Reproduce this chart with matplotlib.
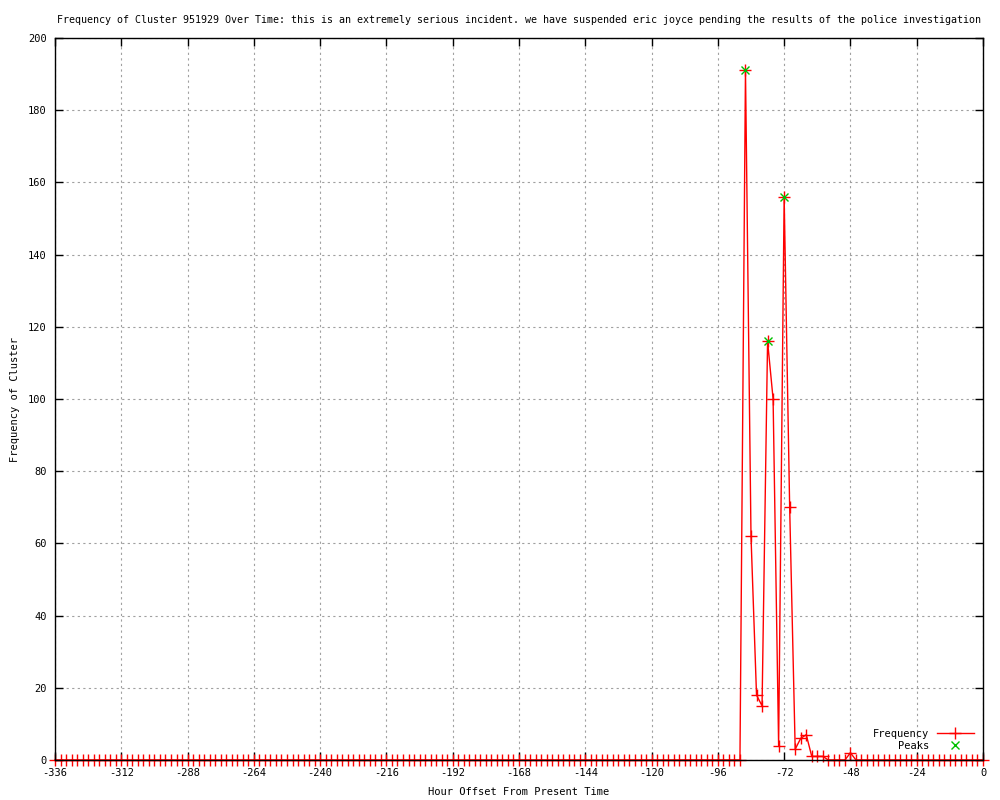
import numpy as np
import matplotlib
matplotlib.use("Agg")
import matplotlib.pyplot as plt

# hour offsets, one point every 2 hours
hours = list(range(-336, 1, 2))
nonzero = {-86: 191, -84: 62, -82: 18, -80: 15, -78: 116, -76: 100, -74: 4,
           -72: 156, -70: 70, -68: 3, -66: 6, -64: 7, -62: 1, -60: 1, -58: 1,
           -48: 2}
freq = [nonzero.get(h, 0) for h in hours]

peak_hours = [-86, -78, -72]
peak_vals = [191, 116, 156]

x_ticks = list(range(-336, 1, 24))
y_ticks = list(range(0, 201, 20))

title = ("Frequency of Cluster 951929 Over Time: this is an extremely serious incident. "
         "we have suspended eric joyce pending the results of the police investigation")

plt.rcParams['font.family'] = ['DejaVu Sans Mono']
plt.rcParams['font.size'] = 7.5
plt.rcParams['axes.unicode_minus'] = False

fig = plt.figure(figsize=(10, 8), dpi=100)
ax = fig.add_axes([0.055, 0.05, 0.928, 0.9025])

ax.plot(hours, freq, color='red', linewidth=1, marker='+', markersize=8,
        markeredgewidth=1, label='Frequency', zorder=2, clip_on=False)
ax.plot(peak_hours, peak_vals, linestyle='none', color='#00c000', marker='x',
        markersize=6, markeredgewidth=1, label='Peaks', zorder=4)

ax.set_xlim(-336, 0)
ax.set_ylim(0, 200)
ax.set_xticks(x_ticks)
ax.set_yticks(y_ticks)
ax.tick_params(direction='in', length=6, width=1, top=True, right=True,
               labelsize=7.5, pad=6)
ax.grid(True, color='#a0a0a0', linestyle=(0, (2, 3)), linewidth=0.8)
for s in ax.spines.values():
    s.set_linewidth(1)
    s.set_zorder(3)

ax.set_title(title, fontsize=7.2, pad=11)
ax.set_xlabel('Hour Offset From Present Time', fontsize=7.5, labelpad=6)
ax.set_ylabel('Frequency of Cluster', fontsize=7.5, labelpad=6)

leg = ax.legend(loc='lower right', frameon=False, markerfirst=False,
                fontsize=7.5, handlelength=3.5, borderaxespad=0.5,
                labelspacing=0.2)

fig.savefig('out.png', dpi=100)
